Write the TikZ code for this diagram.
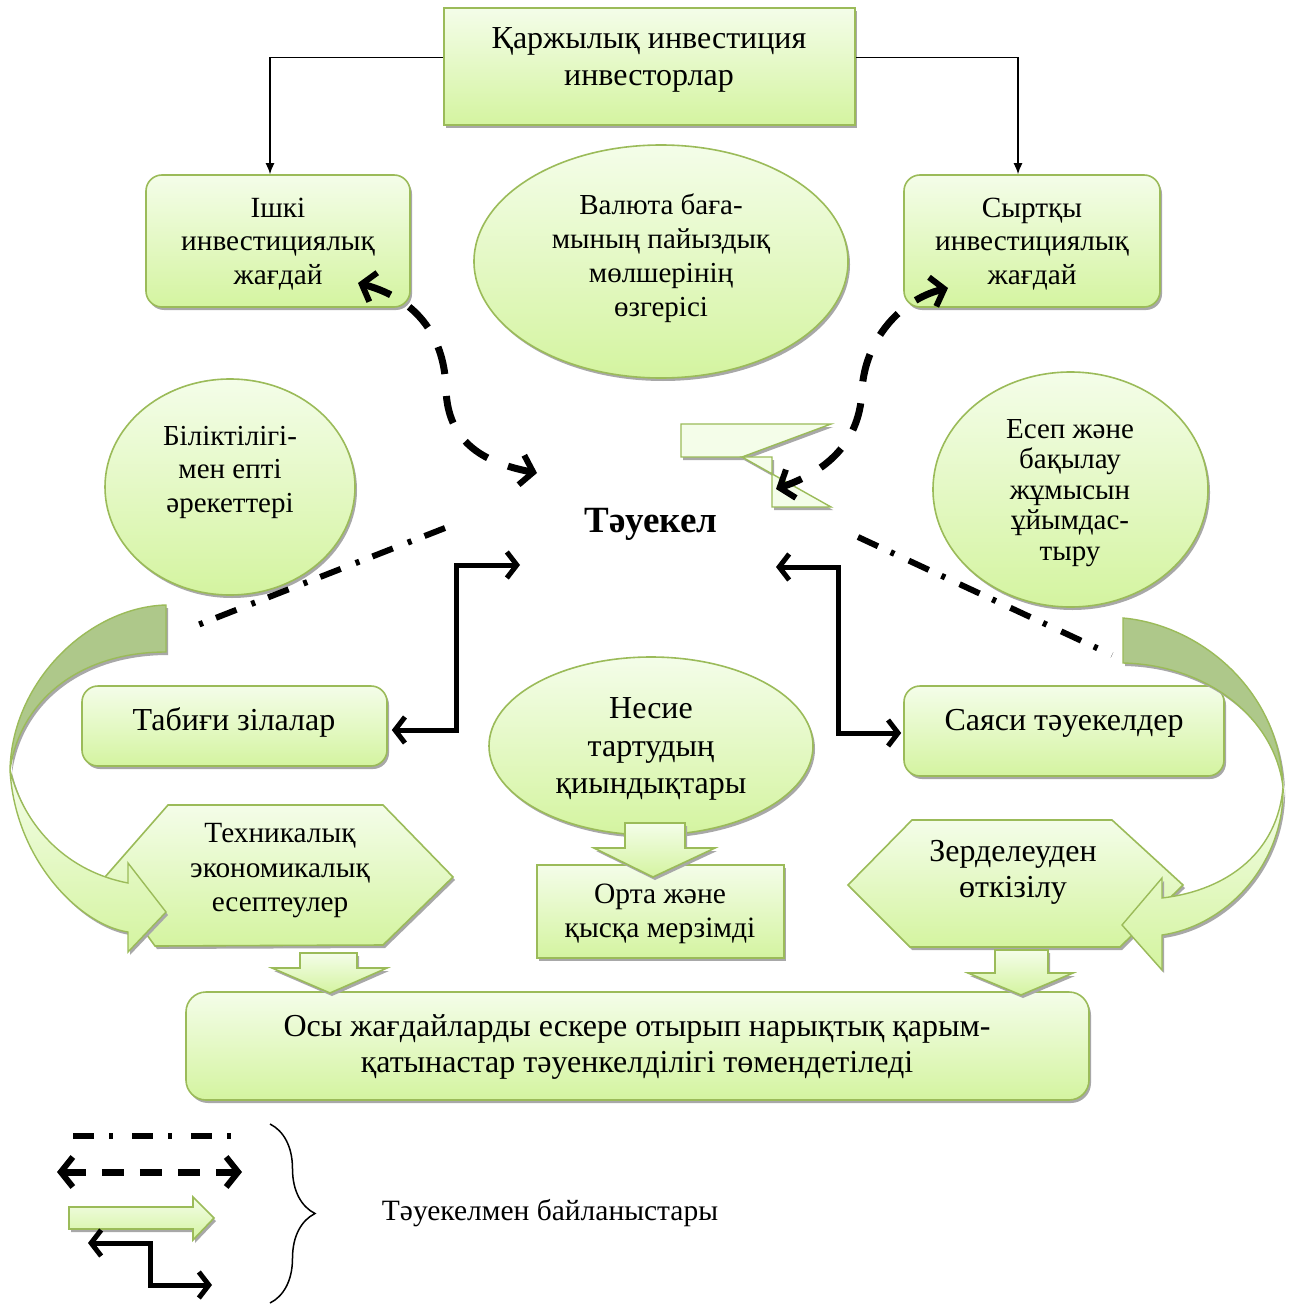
\documentclass[tikz,border=0pt]{standalone}
\usepackage{fontspec}
\setmainfont{Liberation Serif}
\usetikzlibrary{shapes.geometric,arrows.meta,shadows,decorations.pathreplacing}
\definecolor{gborder}{HTML}{9BBB59}
\definecolor{gtop}{HTML}{F4FDE9}
\definecolor{gbot}{HTML}{D4F4A0}
\definecolor{gdark}{HTML}{AEC88A}
\definecolor{shad}{HTML}{A8A8A8}
\tikzset{
  sh/.style={drop shadow={shadow xshift=2pt,shadow yshift=-3pt,fill=shad,opacity=1}},
  gfill/.style={top color=gtop,bottom color=gbot,draw=gborder,line width=1.6pt},
  sqbox/.style={gfill,sh,rectangle,inner sep=0pt},
  rbox/.style={gfill,sh,rectangle,rounded corners=16pt,inner sep=0pt},
  ell/.style={gfill,sh,ellipse,inner sep=0pt},
  txt/.style={align=center,inner sep=0pt,font=\fontsize{32}{#1}\selectfont},
  txt/.default=36,
  stxt/.style={align=center,inner sep=0pt,font=\fontsize{29.3}{#1}\selectfont},
  etxt/.style={align=center,inner sep=0pt,font=\fontsize{29}{#1}\selectfont},
  thinarr/.style={line width=1.4pt,-{Latex[length=11pt,width=9pt]}},
  barb/.tip={Straight Barb[length=12pt,width=30pt,line width=6pt]},
  dasharr/.style={line width=7pt,dash pattern=on 28pt off 22pt,barb-barb},
  dashdot/.style={line width=6pt,dash pattern=on 22pt off 14pt on 4pt off 16pt},
  elbarr/.style={line width=5pt,{Straight Barb[length=10pt,width=26pt,line width=5pt]}-{Straight Barb[length=10pt,width=26pt,line width=5pt]}},
  blockarr/.style={gfill,sh,line join=miter},
}
\begin{document}
\begin{tikzpicture}[x=1pt,y=-1pt]
\useasboundingbox[fill=white] (0,0) rectangle (1290,1305);

% ---------- top box and top connectors
\node[sqbox,minimum width=411pt,minimum height=117pt] (top) at (649.5,66.5) {};
\node[txt=37] (topT) at (649,60) {Қаржылық инвестиция\\инвесторлар};

\node[rbox,minimum width=264pt,minimum height=132pt] (ishki) at (278,241) {};
\node[stxt=33.5] (ishkiT) at (278,244) {Ішкі\\инвестициялық\\жағдай};

\node[rbox,minimum width=256pt,minimum height=132pt] (syrt) at (1032,241) {};
\node[stxt=33.5] (syrtT) at (1032,244) {Сыртқы\\инвестициялық\\жағдай};

\draw[thinarr] ([yshift=9pt]top.west) -| ([xshift=-8pt]ishki.north);
\draw[thinarr] ([yshift=9pt]top.east) -| ([xshift=-14pt]syrt.north);

% ---------- ellipses
\node[ell,minimum width=374pt,minimum height=233pt] (val) at (661,261.5) {};
\node[etxt=34] (valT) at (661,258) {Валюта баға-\\мының пайыздық\\мөлшерінің\\өзгерісі};

\node[ell,minimum width=250pt,minimum height=216pt] (bil) at (230,487) {};
\node[etxt=33.5] (bilT) at (230,472) {Біліктілігі-\\мен епті\\әрекеттері};

\node[ell,minimum width=275pt,minimum height=235pt] (esep) at (1070.5,489.5) {};
\node[etxt=30.5] (esepT) at (1070,493) {Есеп және\\бақылау\\жұмысын\\ұйымдас-\\тыру};

% ---------- centre
\node[inner sep=0pt,font=\fontsize{37}{40}\selectfont\bfseries] (tau) at (651,524) {Тәуекел};

\path[fill=gtop,draw=gborder,line width=1.4pt,sh] (681,424) -- (831,424) -- (742,457) -- (681,457) -- cycle;
\path[fill=gtop,draw=gborder,line width=1.4pt,sh] (742,457) -- (772,457) -- (772,507) -- (831,507) -- cycle;

\coordinate (dL1) at (358,283);
\coordinate (dL2) at (537,473);
\coordinate (dR1) at (948,288);
\coordinate (dR2) at (776,489);
\draw[dasharr] (dL1) .. controls (420,300) and (445,340) .. (446,390)
      .. controls (448,440) and (480,462) .. (dL2);
\draw[dasharr] (dR1) .. controls (900,300) and (865,340) .. (862,390)
      .. controls (860,440) and (830,470) .. (dR2);

\coordinate (ddL1) at (445,528);
\coordinate (ddL2) at (185,630);
\coordinate (ddR1) at (858,537);
\coordinate (ddR2) at (1112,655);
\draw[dashdot] (ddL1) -- (ddL2);
\draw[dashdot] (ddR1) -- (ddR2);

% ---------- middle row
\node[rbox,minimum width=305pt,minimum height=80pt] (tab) at (234.5,726) {};
\node[txt] (tabT) at (234,722) {Табиғи зілалар};

\node[rbox,minimum width=320pt,minimum height=90pt] (say) at (1064,731) {};
\node[txt] (sayT) at (1064,723) {Саяси тәуекелдер};

\coordinate (tauL) at (520,565);
\coordinate (tauR) at (776,567);
\draw[elbarr] ([xshift=4pt,yshift=-4pt]tab.east) -- ++(65,0) |- (tauL);
\draw[elbarr] (tauR) -- ++(62,0) |- ([xshift=-2pt,yshift=-2pt]say.west);

\node[ell,minimum width=324pt,minimum height=178pt] (nes) at (651,746) {};
\node[txt=37.5] (nesT) at (651,749) {Несие\\тартудың\\қиындықтары};

\node[sqbox,minimum width=247pt,minimum height=93pt] (orta) at (660.5,911.5) {};
\node[align=center,inner sep=0pt,font=\fontsize{29.5}{34}\selectfont] (ortaT) at (660,914) {Орта және\\қысқа мерзімді};
\path[blockarr] (625,823) -- (685,823) -- (685,848) -- (715,848) -- (653,877) -- (594,848) -- (625,848) -- cycle;

% ---------- hexagons
\path[gfill,sh] (168,805) -- (383,805) -- (453,877) -- (383,945) -- (155,946) -- (105,877) -- cycle;
\node[stxt=34.5] (tehT) at (280,871) {Техникалық\\экономикалық\\есептеулер};

\path[gfill,sh] (912,820) -- (1112,820) -- (1183,885) -- (1120,947) -- (910,947) -- (848,885) -- cycle;
\node[txt=36] (zerT) at (1013,872) {Зерделеуден\\өткізілу};

% ---------- bottom box
\node[rbox,rounded corners=20pt,minimum width=903pt,minimum height=108pt] (bot) at (637.5,1046) {};
\node[txt=36] (botT) at (637,1047) {Осы жағдайларды ескере отырып нарықтық қарым-\\қатынастар тәуенкелділігі төмендетіледі};

\path[blockarr] (300,953) -- (357,953) -- (357,968) -- (387,968) -- (330,993) -- (272,968) -- (300,968) -- cycle;
\path[blockarr] (995,950) -- (1048,950) -- (1048,973) -- (1073,973) -- (1021,995) -- (968,973) -- (995,973) -- cycle;

% ---------- curved arrows
\path[fill=gdark,draw=gborder,line width=1.4pt,sh] (166,605) .. controls (90,607) and (12,680) .. (10,770)
   .. controls (20,700) and (80,652) .. (166,652) -- cycle;
\path[gfill,line width=1.4pt,sh] (10,770) .. controls (15,860) and (80,925) .. (128,932)
   -- (128,952) -- (166,912) -- (128,863) -- (128,883)
   .. controls (70,872) and (25,830) .. (10,770) -- cycle;

\path[fill=gdark,draw=gborder,line width=1.4pt,sh] (1123,618) .. controls (1200,625) and (1280,690) .. (1283,787)
   .. controls (1275,720) and (1210,665) .. (1123,663) -- cycle;
\path[gfill,line width=1.4pt,sh] (1283,787) .. controls (1285,860) and (1230,925) .. (1162,935)
   -- (1162,970) -- (1122,925) -- (1162,878) -- (1162,898)
   .. controls (1230,890) and (1278,850) .. (1283,787) -- cycle;

% ---------- legend
\coordinate (lg1a) at (73,1136);
\coordinate (lg1b) at (232,1136);
\draw[line width=6pt,dash pattern=on 21pt off 15pt on 4pt off 19pt] (lg1a) -- (lg1b);
\coordinate (lg2a) at (57,1172);
\coordinate (lg2b) at (242,1172);
\draw[line width=7pt,dash pattern=on 22pt off 16pt,barb-barb] (lg2a) -- (lg2b);
\path[blockarr] (69,1207) -- (193,1207) -- (193,1197) -- (214,1218) -- (193,1240) -- (193,1229) -- (69,1229) -- cycle;
\coordinate (lg4a) at (88,1243);
\coordinate (lg4b) at (212,1285);
\draw[elbarr] (lg4a) -- (150,1243) |- (lg4b);
\draw[line width=1.5pt,decorate,decoration={brace,amplitude=45pt}] (270,1124) -- (270,1303);
\node[font=\fontsize{29.5}{32}\selectfont,inner sep=0pt] (legT) at (550,1213) {Тәуекелмен байланыстары};
\end{tikzpicture}
\end{document}
